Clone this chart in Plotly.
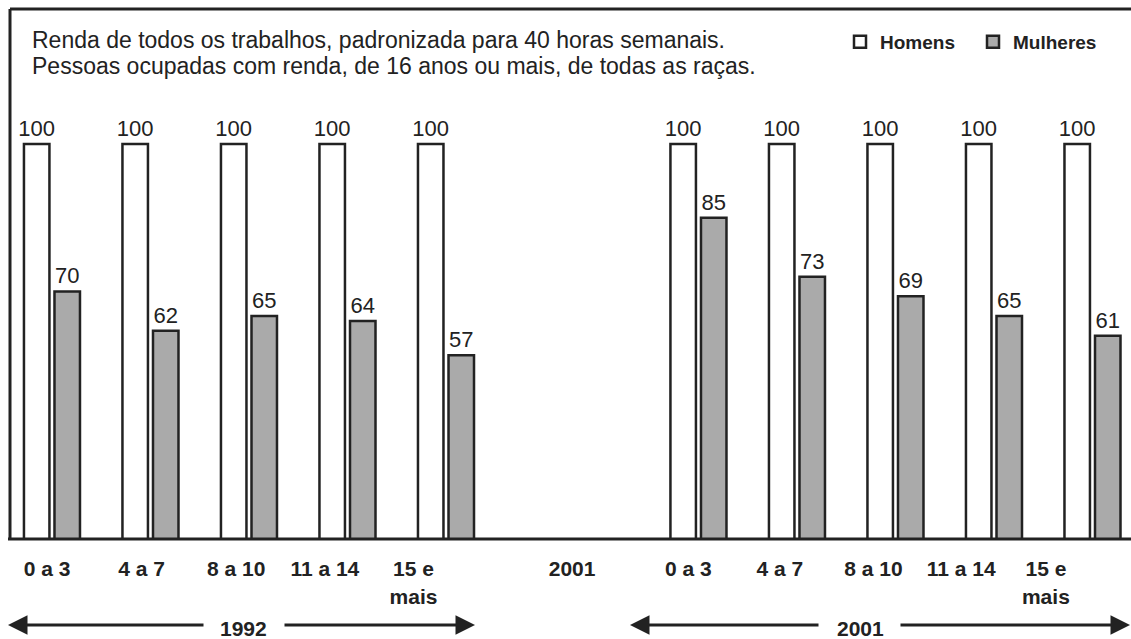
import plotly.graph_objects as go

# ---------------- data ----------------
faixas = ["0 a 3", "4 a 7", "8 a 10", "11 a 14", "15 e<br>mais"]
homens_1992 = [100, 100, 100, 100, 100]
mulheres_1992 = [70, 62, 65, 64, 57]
homens_2001 = [100, 100, 100, 100, 100]
mulheres_2001 = [85, 73, 69, 65, 61]
anos = ["1992", "2001"]
rotulo_meio = "2001"
titulo = ["Renda de todos os trabalhos, padronizada para 40 horas semanais.",
          "Pessoas ocupadas com renda, de 16 anos ou mais, de todas as raças."]

# ---------------- layout helpers ----------------
W, H = 1131, 639
ML, MR, MT, MB = 10, 0, 9, 100
PW, PH = W - ML - MR, H - MT - MB

def xp(px):  # pixel -> paper x
    return (px - ML) / PW

def yp(py):  # pixel -> paper y
    return (H - MB - py) / PH

GAP_2001 = 6.563  # slot offset of second block
pos_1992 = [i for i in range(len(faixas))]
pos_2001 = [GAP_2001 + i for i in range(len(faixas))]
x_all = pos_1992 + pos_2001

# tick label slots (axis units)
tick_pos = [-0.05, 0.91, 1.87, 2.77, 3.67, 5.28, 6.46, 7.39, 8.34, 9.23, 10.09]
tick_txt = faixas + [rotulo_meio] + faixas

FONT = "Liberation Sans, Arial, Helvetica, sans-serif"
INK = "#222222"

fig = go.Figure()
fig.add_trace(go.Bar(
    name="Homens", x=x_all, y=homens_1992 + homens_2001,
    marker=dict(color="white", line=dict(color=INK, width=2.5)),
    text=homens_1992 + homens_2001, texttemplate="%{text}",
    textposition="outside", constraintext="none", cliponaxis=False,
    textfont=dict(size=22, color=INK, family=FONT),
))
fig.add_trace(go.Bar(
    name="Mulheres", x=x_all, y=mulheres_1992 + mulheres_2001,
    marker=dict(color="#aaaaaa", line=dict(color=INK, width=2.5)),
    text=mulheres_1992 + mulheres_2001, texttemplate="%{text}",
    textposition="outside", constraintext="none", cliponaxis=False,
    textfont=dict(size=22, color=INK, family=FONT),
))

shapes = [
    dict(type="line", xref="paper", yref="paper", x0=0, x1=0, y0=0, y1=1,
         line=dict(color=INK, width=3), layer="above"),
    dict(type="line", xref="paper", yref="paper", x0=0, x1=1, y0=1, y1=1,
         line=dict(color=INK, width=3), layer="above"),
    dict(type="line", xref="paper", yref="paper", x0=xp(8), x1=1.01, y0=0, y1=0,
         line=dict(color=INK, width=3), layer="above"),
]

annotations = []
for linha, cy in zip(titulo, [40, 66]):
    annotations.append(dict(xref="paper", yref="paper", x=xp(30), y=yp(cy),
                            xanchor="left", yanchor="middle", text=linha, showarrow=False,
                            font=dict(size=23, color=INK, family=FONT)))

# year arrows: (left tip, left tail, text center, right tail, right tip)
arrow_spans = [(8, 205, 243, 283, 475), (630, 820, 860, 899, 1133)]
ARROW_Y = 625
for ano, (lt, ltail, tc, rtail, rt) in zip(anos, arrow_spans):
    annotations.append(dict(xref="paper", yref="paper", x=xp(lt), y=yp(ARROW_Y),
                            ax=ltail - lt, ay=0, text="", showarrow=True,
                            arrowhead=2, arrowsize=1.3, arrowwidth=3, arrowcolor=INK,
                            standoff=0, startstandoff=0))
    annotations.append(dict(xref="paper", yref="paper", x=xp(rt), y=yp(ARROW_Y),
                            ax=rtail - rt, ay=0, text="", showarrow=True,
                            arrowhead=2, arrowsize=1.3, arrowwidth=3, arrowcolor=INK,
                            standoff=0, startstandoff=0))
    annotations.append(dict(xref="paper", yref="paper", x=xp(tc), y=yp(628),
                            xanchor="center", yanchor="middle", text="<b>%s</b>" % ano,
                            showarrow=False, font=dict(size=21, color=INK, family=FONT)))

fig.update_layout(
    width=W, height=H,
    margin=dict(l=ML, r=MR, t=MT, b=MB, pad=0),
    paper_bgcolor="white", plot_bgcolor="white",
    barmode="group", bargap=0.38, bargroupgap=0.165,
    showlegend=True,
    legend=dict(orientation="h", xanchor="left", x=xp(840), yanchor="middle", y=yp(42),
                entrywidth=88, entrywidthmode="pixels",
                font=dict(size=19, color=INK, family=FONT, weight="bold"),
                bgcolor="rgba(0,0,0,0)", borderwidth=0, itemclick=False),
    xaxis=dict(range=[-0.426, 10.954], showgrid=False, zeroline=False, showline=False,
               tickmode="array", tickvals=tick_pos, ticktext=tick_txt,
               ticks="outside", ticklen=11, tickcolor="rgba(0,0,0,0)",
               tickfont=dict(size=21, color=INK, family=FONT, weight="bold"),
               fixedrange=True),
    yaxis=dict(range=[19.6, 127.5], showgrid=False, zeroline=False, showline=False,
               showticklabels=False, ticks="", fixedrange=True),
    shapes=shapes, annotations=annotations,
)

fig.write_html(
    "out.html",
    config={"displayModeBar": False},
    post_script="document.body.style.margin='0';document.body.style.overflow='hidden';",
)
